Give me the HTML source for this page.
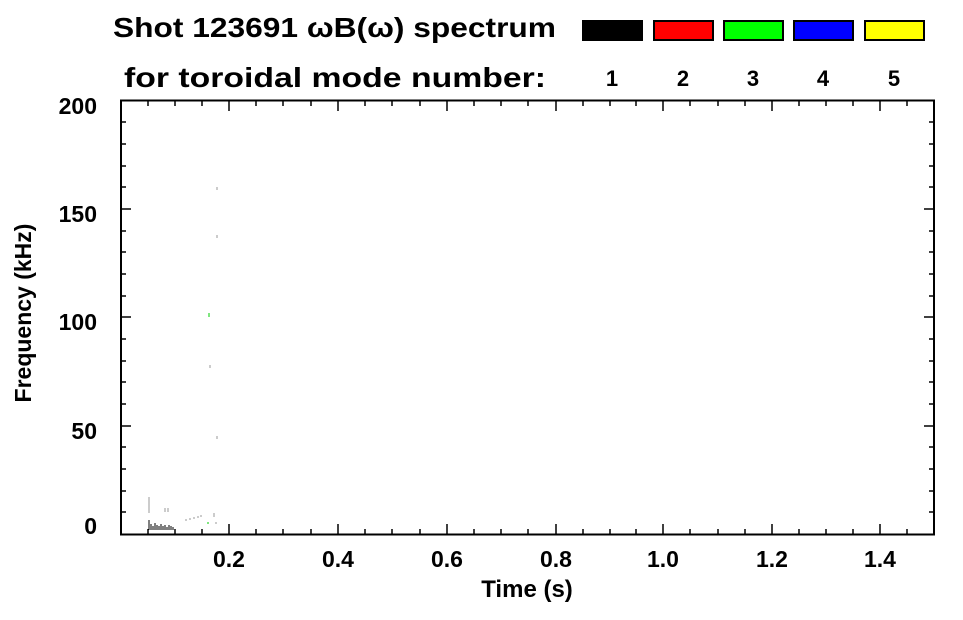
<!DOCTYPE html>
<html><head><style>
body{margin:0;background:#fff;}
svg text{font-family:"Liberation Sans",sans-serif;font-weight:bold;fill:#000;}
</style></head><body>
<svg width="963" height="615" viewBox="0 0 963 615" xmlns="http://www.w3.org/2000/svg">
<text x="113" y="37" font-size="28" textLength="443" lengthAdjust="spacingAndGlyphs">Shot 123691 ωB(ω) spectrum</text>
<text x="124" y="87" font-size="28" textLength="422" lengthAdjust="spacingAndGlyphs">for toroidal mode number:</text>
<rect x="582" y="20" width="61" height="21" fill="#000"/>
<rect x="654" y="21" width="59" height="19" fill="#f00" stroke="#000" stroke-width="2"/>
<rect x="724" y="21" width="59" height="19" fill="#0f0" stroke="#000" stroke-width="2"/>
<rect x="794" y="21" width="59" height="19" fill="#00f" stroke="#000" stroke-width="2"/>
<rect x="865" y="21" width="59" height="19" fill="#ff0" stroke="#000" stroke-width="2"/>
<g font-size="22" text-anchor="middle">
<text x="612" y="86">1</text><text x="683" y="86">2</text><text x="753" y="86">3</text><text x="823" y="86">4</text><text x="894" y="86">5</text>
</g>
<rect x="121" y="100.5" width="813" height="434" fill="none" stroke="#000" stroke-width="2"/>
<g stroke="#000" stroke-width="1.5">
<path d="M229 534v-10M338 534v-10M447 534v-10M556 534v-10M663 534v-10M772 534v-10M880 534v-10
M229 101v10M338 101v10M447 101v10M556 101v10M663 101v10M772 101v10M880 101v10
M148 534v-5M175 534v-5M202 534v-5M256 534v-5M283 534v-5M311 534v-5M365 534v-5M392 534v-5M420 534v-5M474 534v-5M501 534v-5M528 534v-5M583 534v-5M610 534v-5M636 534v-5M690 534v-5M718 534v-5M745 534v-5M799 534v-5M826 534v-5M853 534v-5M907 534v-5
M148 101v5M175 101v5M202 101v5M256 101v5M283 101v5M311 101v5M365 101v5M392 101v5M420 101v5M474 101v5M501 101v5M528 101v5M583 101v5M610 101v5M636 101v5M690 101v5M718 101v5M745 101v5M799 101v5M826 101v5M853 101v5M907 101v5
M121 209h10M121 317h10M121 426h10M934 209h-10M934 317h-10M934 426h-10
M121 512h5M121 491h5M121 469h5M121 447h5M121 404h5M121 382h5M121 361h5M121 339h5M121 296h5M121 274h5M121 252h5M121 231h5M121 187h5M121 166h5M121 144h5M121 122h5
M934 512h-5M934 491h-5M934 469h-5M934 447h-5M934 404h-5M934 382h-5M934 361h-5M934 339h-5M934 296h-5M934 274h-5M934 252h-5M934 231h-5M934 187h-5M934 166h-5M934 144h-5M934 122h-5"/>
</g>
<g font-size="23" text-anchor="end">
<text x="97" y="114">200</text><text x="97" y="222">150</text><text x="97" y="330">100</text><text x="97" y="439">50</text><text x="97" y="534">0</text>
</g>
<g font-size="23" text-anchor="middle">
<text x="229" y="567">0.2</text><text x="338" y="567">0.4</text><text x="447" y="567">0.6</text><text x="556" y="567">0.8</text><text x="663" y="567">1.0</text><text x="772" y="567">1.2</text><text x="880" y="567">1.4</text>
</g>
<text x="527" y="597" font-size="24" text-anchor="middle">Time (s)</text>
<text transform="translate(31,313) rotate(-90)" font-size="23" text-anchor="middle">Frequency (kHz)</text>
<g stroke="#000" stroke-width="1">
<path d="M149 520v10M151 524v6M153 526v4M155 523v7M157 525v5M159 526v4M161 524v6M163 526v4M165 525v5M167 527v3M169 525v5M171 526v4M173 527v3"/>
</g>
<g stroke="#999" stroke-width="1">
<path d="M149 497v16M165 508v4M168 508v4M186 519v2M190 518v2M194 517v2M198 516v2M201 515v2M214 513v4M216 522v2M217 187v3M217 235v3M210 365v3M217 436v3"/>
</g>
<path d="M209 313v4" stroke="#0c0" stroke-width="1"/>
<path d="M208 522v2" stroke="#0c0" stroke-width="1"/>
</svg>
</body></html>
